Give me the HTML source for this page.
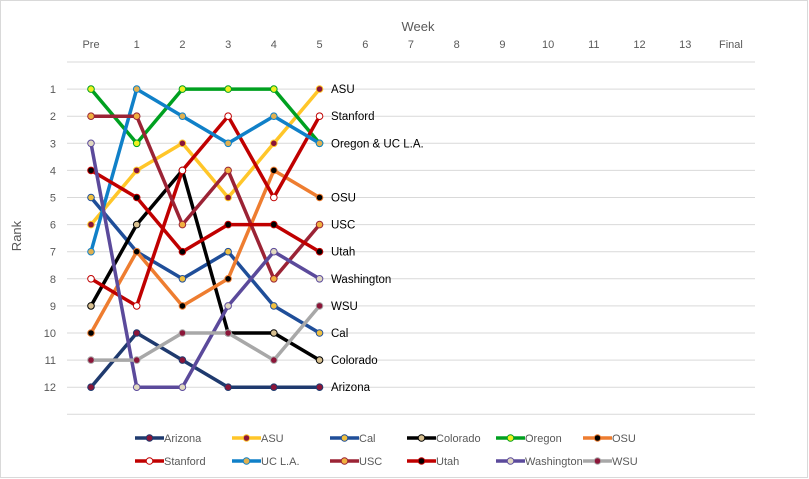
<!DOCTYPE html>
<html><head><meta charset="utf-8"><style>
body{margin:0;background:#fff;}
svg{display:block;font-family:"Liberation Sans",sans-serif;}
</style></head><body>
<svg id="chart" width="809" height="479" viewBox="0 0 809 479">
<rect x="0.5" y="0.5" width="807" height="477" fill="#fff" stroke="#d9d9d9"/>
<text x="418" y="31" font-size="13" fill="#595959" text-anchor="middle">Week</text>
<text x="21" y="236" font-size="13" fill="#595959" text-anchor="middle" transform="rotate(-90 21 236)">Rank</text>
<g id="grid"></g><g id="xt"></g><g id="yt"></g><g id="series"></g><g id="labels"></g><g id="legend"></g>
</svg>
<script>
const weeks=["Pre","1","2","3","4","5","6","7","8","9","10","11","12","13","Final"];
const rankTicks=[1,2,3,4,5,6,7,8,9,10,11,12];
const teams=["Arizona","ASU","Cal","Colorado","Oregon","OSU","Stanford","UC L.A.","USC","Utah","Washington","WSU"];
const arizona=[12,10,11,12,12,12];
const asu=[6,4,3,5,3,1];
const cal=[5,7,8,7,9,10];
const colorado=[9,6,4,10,10,11];
const oregon=[1,3,1,1,1,3];
const osu=[10,7,9,8,4,5];
const stanford=[8,9,4,2,5,2];
const ucla=[7,1,2,3,2,3];
const usc=[2,2,6,4,8,6];
const utah=[4,5,7,6,6,7];
const washington=[3,12,12,9,7,8];
const wsu=[11,11,10,10,11,9];
const endLabels=[["ASU",1],["Stanford",2],["Oregon & UC L.A.",3],["OSU",5],["USC",6],["Utah",7],["Washington",8],["WSU",9],["Cal",10],["Colorado",11],["Arizona",12]];

const values=[arizona,asu,cal,colorado,oregon,osu,stanford,ucla,usc,utah,washington,wsu];
const lineC=["#1f3a6e","#ffc629","#1f4e99","#000000","#00a020","#ee7d30","#c00000","#1080c8","#9b2335","#c00000","#5b4a9b","#a8a8a8"];
const markC=["#8b1538","#8b1538","#f0c040","#d8c090","#f0f020","#000000","#ffffff","#e0b050","#f0b040","#000000","#e0d8c0","#8b1538"];
const NS="http://www.w3.org/2000/svg";
const X=i=>91+i*45.71;
const Y=r=>62+r*27.1;
function mk(tag,attrs,parent){const e=document.createElementNS(NS,tag);for(const k in attrs)e.setAttribute(k,attrs[k]);parent.appendChild(e);return e;}
const grid=document.getElementById('grid');
for(let r=0;r<=13;r++){
 const l=mk('line',{x1:67,x2:755,y1:Y(r),y2:Y(r),stroke:"#d9d9d9","stroke-width":1},grid);
 
 
}
const xt=document.getElementById('xt');
weeks.forEach((w,i)=>{const t=mk('text',{x:X(i),y:48,"font-size":11,fill:"#595959","text-anchor":"middle"},xt);t.textContent=w;
 
 });
const yt=document.getElementById('yt');
rankTicks.forEach(r=>{const t=mk('text',{x:56,y:Y(r)+4,"font-size":11,fill:"#595959","text-anchor":"end"},yt);t.textContent=r;
 
 });
const sg=document.getElementById('series');
values.forEach((v,s)=>{
 const g=mk('g',{},sg);
 
 
 mk('polyline',{points:v.map((r,i)=>X(i)+","+Y(r)).join(" "),fill:"none",stroke:lineC[s],"stroke-width":3.5,"stroke-linejoin":"round"},g);
 v.forEach((r,i)=>{const c=mk('circle',{cx:X(i),cy:Y(r),r:3.3,fill:markC[s],stroke:lineC[s],"stroke-width":1},g);
  
  });
});
const lg=document.getElementById('labels');
endLabels.forEach(([n,r])=>{const t=mk('text',{x:331,y:Y(r)+4,"font-size":11.5,fill:"#000"},lg);t.textContent=n;
 
 });
const leg=document.getElementById('legend');
const colX=[135,232,330,407,496,583];
teams.forEach((n,s)=>{
 const x=colX[s%6],y=s<6?438:461;
 const g=mk('g',{},leg);
 
 
 mk('line',{x1:x,x2:x+29,y1:y,y2:y,stroke:lineC[s],"stroke-width":3.5},g);
 mk('circle',{cx:x+14.5,cy:y,r:3.3,fill:markC[s],stroke:lineC[s],"stroke-width":1},g);
 const t=mk('text',{x:x+29,y:y+4,"font-size":11,fill:"#595959"},g);t.textContent=n;
});
</script>
</body></html>
